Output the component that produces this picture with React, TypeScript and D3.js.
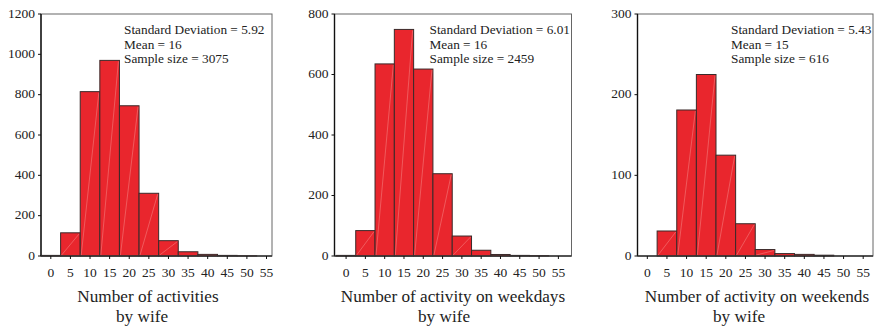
import React from "react";
import { scaleLinear } from "d3";

// bin centres (each bin is 5 wide)
const binCenters = [0, 5, 10, 15, 20, 25, 30, 35, 40, 45, 50, 55];

const allCounts = [3, 115, 815, 970, 745, 311, 76, 21, 8, 3, 1, 0];
const weekdayCounts = [2, 84, 635, 749, 618, 272, 66, 19, 5, 2, 1, 0];
const weekendCounts = [0, 31, 181, 225, 125, 40, 8, 3, 2, 1, 0, 0];

const allTicks = [0, 200, 400, 600, 800, 1000, 1200];
const weekdayTicks = [0, 200, 400, 600, 800];
const weekendTicks = [0, 100, 200, 300];

const allNotes = ["Standard Deviation = 5.92", "Mean = 16", "Sample size = 3075"];
const weekdayNotes = ["Standard Deviation = 6.01", "Mean = 16", "Sample size = 2459"];
const weekendNotes = ["Standard Deviation = 5.43", "Mean = 15", "Sample size = 616"];

const allTitle = ["Number of activities", "by wife"];
const weekdayTitle = ["Number of activity on weekdays", "by wife"];
const weekendTitle = ["Number of activity on weekends", "by wife"];

const FONT = "'Liberation Serif', 'Times New Roman', serif";
const TOP = 14;
const BOTTOM = 256;

const panels = [
  { counts: allCounts, ticks: allTicks, notes: allNotes, title: allTitle,
    left: 41, right: 272, xMin: -2.5, xMax: 56.4, noteX: 124, t1: 148, t2: 142 },
  { counts: weekdayCounts, ticks: weekdayTicks, notes: weekdayNotes, title: weekdayTitle,
    left: 334.5, right: 571.5, xMin: -3, xMax: 58.4, noteX: 429.5, t1: 453, t2: 444 },
  { counts: weekendCounts, ticks: weekendTicks, notes: weekendNotes, title: weekendTitle,
    left: 637.5, right: 873, xMin: -2.5, xMax: 57.5, noteX: 731, t1: 757, t2: 739 },
];

const Histogram = ({ p }) => {
  const x = scaleLinear().domain([p.xMin, p.xMax]).range([p.left, p.right]);
  const yMax = p.ticks[p.ticks.length - 1];
  const y = scaleLinear().domain([0, yMax]).range([BOTTOM, TOP]);

  return (
    <g>
      {/* frame */}
      <rect x={p.left} y={TOP} width={p.right - p.left} height={BOTTOM - TOP}
        fill="none" stroke="#666" strokeWidth={1} />

      {binCenters.map((c, i) => {
        const x0 = x(c - 2.5);
        const x1 = x(c + 2.5);
        const top = y(p.counts[i]);
        return (
          <g key={i}>
            <rect x={x0} y={top} width={x1 - x0} height={BOTTOM - top}
              fill="#e9262d" stroke="#3a2a2a" strokeWidth={1} />
            {BOTTOM - top > 6 && (
              <line x1={x0 + 1} y1={BOTTOM - 1} x2={x1 - 1} y2={top + 1}
                stroke="#f47c7c" strokeWidth={0.6} />
            )}
          </g>
        );
      })}

      {/* axes */}
      <line x1={p.left} y1={TOP} x2={p.left} y2={BOTTOM} stroke="#111" strokeWidth={1.4} />
      <line x1={p.left} y1={BOTTOM} x2={p.right} y2={BOTTOM} stroke="#333" strokeWidth={1.4} />

      {p.ticks.map((t) => (
        <g key={t}>
          <line x1={p.left - 3} y1={y(t)} x2={p.left} y2={y(t)} stroke="#111" />
          <text x={p.left - 6} y={y(t) - 1} textAnchor="end" dominantBaseline="central"
            fontFamily={FONT} fontSize={13.5} fill="#222">{t}</text>
        </g>
      ))}

      {binCenters.map((c) => (
        <g key={c}>
          <line x1={x(c)} y1={BOTTOM} x2={x(c)} y2={BOTTOM + 3} stroke="#111" />
          <text x={x(c)} y={277} textAnchor="middle"
            fontFamily={FONT} fontSize={13.5} fill="#222">{c}</text>
        </g>
      ))}

      {p.notes.map((n, i) => (
        <text key={i} x={p.noteX} y={34 + i * 14.5}
          fontFamily={FONT} fontSize={13.3} fill="#222">{n}</text>
      ))}

      <text x={p.t1} y={301.5} textAnchor="middle" fontFamily={FONT} fontSize={17.2} fill="#222">
        {p.title[0]}
      </text>
      <text x={p.t2} y={321.7} textAnchor="middle" fontFamily={FONT} fontSize={17.2} fill="#222">
        {p.title[1]}
      </text>
    </g>
  );
};

export default function App() {
  return (
    <svg width={877} height={330}
      style={{ position: "absolute", left: 0, top: 0, background: "#fff" }}>
      {panels.map((p, i) => <Histogram key={i} p={p} />)}
    </svg>
  );
}
